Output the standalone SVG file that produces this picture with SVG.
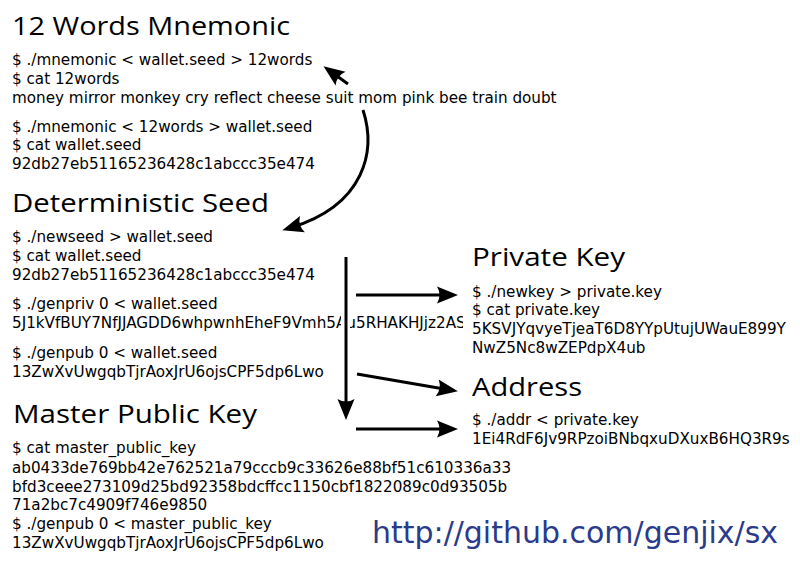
<svg xmlns="http://www.w3.org/2000/svg" width="800" height="566" viewBox="0 0 800 566">
<style>
.h{font-family:"Open Sans","DejaVu Sans",sans-serif;font-size:26px;fill:#000}
.t{font-family:"DejaVu Sans","Liberation Sans",sans-serif;font-size:15.2px;fill:#000}
.url{font-family:"DejaVu Sans","Liberation Sans",sans-serif;font-size:30px;fill:#2b3b8c}
.c{fill:none;stroke:#000;stroke-width:3;marker-end:url(#ah)}
</style>
<defs>
<marker id="ah" markerUnits="userSpaceOnUse" viewBox="-20 -10 30 20" markerWidth="30" markerHeight="20" refX="0" refY="0" orient="auto">
<path d="M8,0 L-13,-8.5 Q-8,0 -13,8.5 Z" fill="#000"/>
</marker>
<clipPath id="cut"><rect x="0" y="300" width="463" height="40"/></clipPath>
</defs>
<rect width="800" height="566" fill="#fff"/>
<g id="mnemonic">
<text class="h" x="12" y="35" textLength="278" lengthAdjust="spacingAndGlyphs">12 Words Mnemonic</text>
<text class="t" x="12" y="65">$ ./mnemonic &lt; wallet.seed &gt; 12words</text>
<text class="t" x="12" y="84">$ cat 12words</text>
<text class="t" x="12" y="103">money mirror monkey cry reflect cheese suit mom pink bee train doubt</text>
<text class="t" x="12" y="132">$ ./mnemonic &lt; 12words &gt; wallet.seed</text>
<text class="t" x="12" y="150">$ cat wallet.seed</text>
<text class="t" x="12" y="169">92db27eb51165236428c1abccc35e474</text>
</g>
<g id="seed">
<text class="h" x="12" y="212" textLength="257" lengthAdjust="spacingAndGlyphs">Deterministic Seed</text>
<text class="t" x="12" y="242">$ ./newseed &gt; wallet.seed</text>
<text class="t" x="12" y="261">$ cat wallet.seed</text>
<text class="t" x="12" y="280">92db27eb51165236428c1abccc35e474</text>
<text class="t" x="12" y="309">$ ./genpriv 0 &lt; wallet.seed</text>
<text class="t" x="12" y="328" clip-path="url(#cut)">5J1kVfBUY7NfJJAGDD6whpwnhEheF9Vmh5Au5RHAKHJjz2AS9</text>
<text class="t" x="12" y="358">$ ./genpub 0 &lt; wallet.seed</text>
<text class="t" x="12" y="377">13ZwXvUwgqbTjrAoxJrU6ojsCPF5dp6Lwo</text>
</g>
<g id="master">
<text class="h" x="13" y="423" textLength="244" lengthAdjust="spacingAndGlyphs">Master Public Key</text>
<text class="t" x="12" y="453">$ cat master_public_key</text>
<text class="t" x="12" y="473">ab0433de769bb42e762521a79cccb9c33626e88bf51c610336a33</text>
<text class="t" x="12" y="492">bfd3ceee273109d25bd92358bdcffcc1150cbf1822089c0d93505b</text>
<text class="t" x="12" y="510">71a2bc7c4909f746e9850</text>
<text class="t" x="12" y="529">$ ./genpub 0 &lt; master_public_key</text>
<text class="t" x="12" y="548">13ZwXvUwgqbTjrAoxJrU6ojsCPF5dp6Lwo</text>
</g>
<g id="private">
<text class="h" x="472" y="266" textLength="153" lengthAdjust="spacingAndGlyphs">Private Key</text>
<text class="t" x="472" y="297">$ ./newkey &gt; private.key</text>
<text class="t" x="472" y="315">$ cat private.key</text>
<text class="t" x="472" y="334">5KSVJYqvyeTjeaT6D8YYpUtujUWauE899Y</text>
<text class="t" x="472" y="353">NwZ5Nc8wZEPdpX4ub</text>
</g>
<g id="address">
<text class="h" x="472" y="396" textLength="110" lengthAdjust="spacingAndGlyphs">Address</text>
<text class="t" x="472" y="425">$ ./addr &lt; private.key</text>
<text class="t" x="472" y="444">1Ei4RdF6Jv9RPzoiBNbqxuDXuxB6HQ3R9s</text>
</g>
<g id="link">
<text class="url" x="372" y="543" textLength="406" lengthAdjust="spacingAndGlyphs">http://github.com/genjix/sx</text>
</g>
<g id="connectors">
<rect x="341" y="312" width="9" height="22" fill="#fff"/>
<path class="c" d="M348,84 L330,71"/>
<path class="c" d="M363,110 C376,150 366,205 290,228"/>
<path class="c" d="M346,257 L346,412"/>
<path class="c" d="M356,295 L450,295"/>
<path class="c" d="M357,374 L450,390"/>
<path class="c" d="M356,429 L450,429"/>
</g>
</svg>
